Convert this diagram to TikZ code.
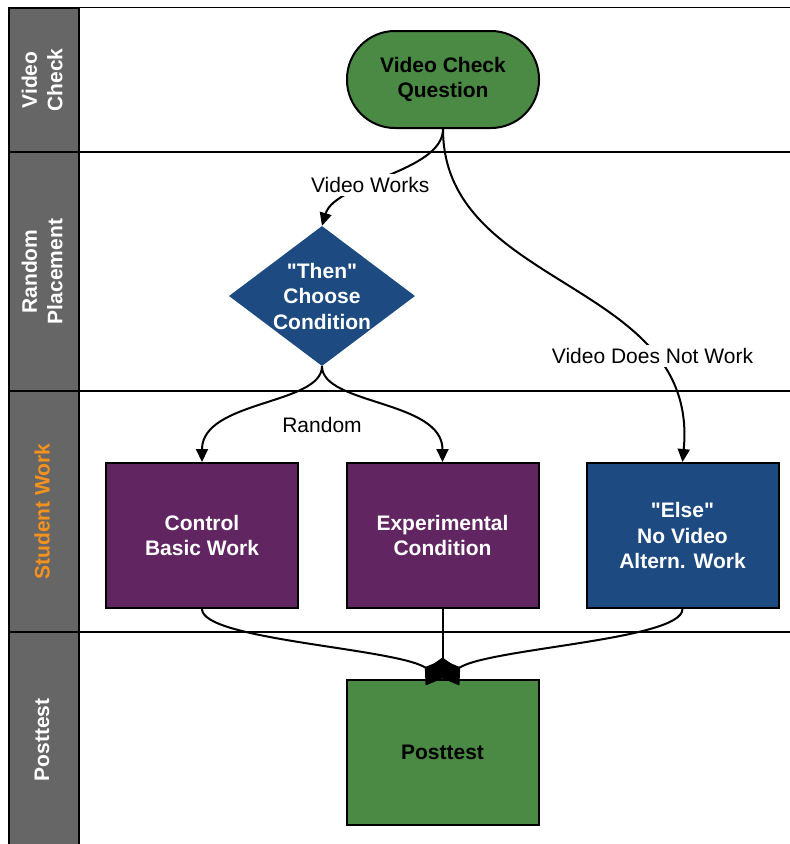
\documentclass[tikz,border=0pt]{standalone}
\usepackage{fontspec}
\setmainfont{Liberation Sans}[Ligatures=TeXOff]
\usetikzlibrary{arrows.meta,shapes.geometric,calc}
\definecolor{hdr}{HTML}{666666}
\definecolor{grn}{HTML}{4A8A44}
\definecolor{prp}{HTML}{612661}
\definecolor{blu}{HTML}{1D4A80}
\definecolor{org}{HTML}{F5921E}
\tikzset{
  lanehdr/.style={fill=hdr,draw=black,line width=2pt},
  laneline/.style={draw=black,line width=1.6pt},
  lanetxt/.style={rotate=90,text=white,font=\fontsize{21}{25.5}\selectfont\bfseries,align=center},
  boxtxt/.style={font=\fontsize{21}{25.5}\selectfont\bfseries,align=center},
  term/.style={boxtxt,draw=black,line width=2pt,fill=grn,rounded corners=48pt,minimum width=192pt,minimum height=97pt,text=black},
  decision/.style={boxtxt,diamond,fill=blu,text=white,minimum width=186pt,minimum height=140pt,inner sep=-14pt},
  procbox/.style={boxtxt,draw=black,line width=2pt,minimum width=192pt,minimum height=145pt},
  conn/.style={draw=black,line width=2pt,-{Triangle[length=13pt,width=12pt]}},
  merge/.style={draw=black,line width=2pt,-{Diamond[length=21pt,width=30pt]}},
  lbl/.style={fill=white,inner sep=3pt,font=\fontsize{21}{25.5}\selectfont,text=black}
}
\begin{document}
\begin{tikzpicture}[x=1pt,y=-1pt]
\useasboundingbox (0,0) rectangle (790,844);
\clip (0,0) rectangle (790,844);
\fill[white] (0,0) rectangle (790,844);
% frame and lanes
\draw[laneline] (9,7.5) rectangle (810,870);
\draw[laneline] (79,152) -- (810,152);
\draw[laneline] (79,391) -- (810,391);
\draw[laneline] (79,632) -- (810,632);
\draw[lanehdr] (9,7.5) rectangle (79,152);
\draw[lanehdr] (9,152) rectangle (79,391);
\draw[lanehdr] (9,391) rectangle (79,632);
\draw[lanehdr] (9,632) rectangle (79,870);
\node[lanetxt] (h1) at (42,80) {Video\\Check};
\node[lanetxt] (h2) at (42,271.5) {Random\\Placement};
\node[lanetxt,text=org] (h3) at (42,511.5) {Student Work};
\node[lanetxt] (h4) at (42,740) {Posttest};
% nodes
\node[term] (vcq) at (443,79.5) {Video Check\\Question};
\node[decision] (dia) at (322,296) {"Then"\\Choose\\Condition};
\node[procbox,fill=prp,text=white] (ctl) at (202,535.5) {Control\\Basic Work};
\node[procbox,fill=prp,text=white] (exp) at (442.5,535.5) {Experimental\\Condition};
\node[procbox,fill=blu,text=white] (els) at (682.5,535.5) {"Else"\\No Video\\Altern. Work};
\node[procbox,fill=grn,text=black] (pst) at (442.5,752) {Posttest};
% connectors
\draw[conn] (vcq.south) .. controls (443,172) and (335,182) .. node[lbl,pos=0.6] (lvw) {Video Works} (dia.north);
\draw[conn] (vcq.south) .. controls (443,290) and (700,280) .. node[lbl,pos=0.75] (lvd) {Video Does Not Work} (els.north);
\draw[conn] (dia.south) .. controls (322,405) and (202,400) .. (ctl.north);
\draw[conn] (dia.south) .. controls (322,405) and (442.5,400) .. (exp.north);
\node[font=\fontsize{21}{25.5}\selectfont] (rnd) at (322,425) {Random};
\draw[merge] (ctl.south) .. controls (202,640) and (395,648) .. (pst.north);
\draw[merge] (exp.south) -- (pst.north);
\draw[merge] (els.south) .. controls (682.5,640) and (490,648) .. (pst.north);
\end{tikzpicture}
\end{document}
